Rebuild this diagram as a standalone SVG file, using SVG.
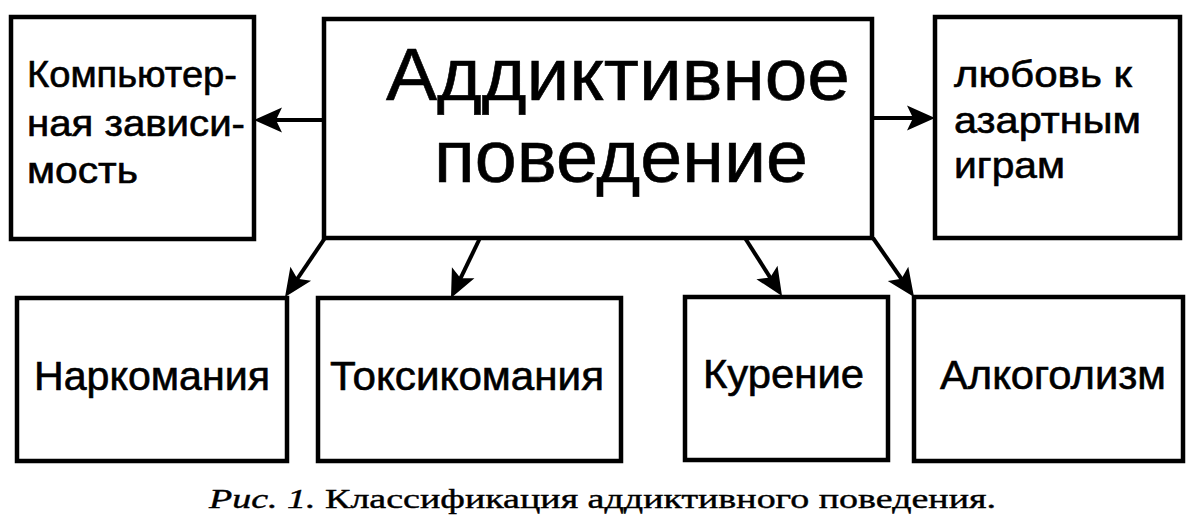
<svg xmlns="http://www.w3.org/2000/svg" width="1196" height="526" viewBox="0 0 1196 526">
<style>
.box{fill:#fff;stroke:#000;stroke-width:4.5}
.t{font-family:"Liberation Sans",Arial,sans-serif;fill:#000;stroke:#000;stroke-width:0.6}
.s{font-size:37px}
.b{font-size:40px}
.m{font-size:74px}
.c{font-family:"Liberation Serif","Times New Roman",serif;font-size:27px;fill:#000;stroke:#000;stroke-width:0.4}
.e{stroke:#000;stroke-width:4;fill:none}
</style>
<defs>
<marker id="ah" markerUnits="userSpaceOnUse" orient="auto" refX="0" refY="0" markerWidth="40" markerHeight="40" viewBox="-30 -15 40 30" overflow="visible">
<path d="M6,0 L-22,-12.5 L-16,0 L-22,12.5 Z" fill="#000"/>
</marker>
</defs>
<rect width="1196" height="526" fill="#fff"/>
<g id="connectors">
<line class="e" x1="324" y1="120" x2="260" y2="120" marker-end="url(#ah)"/>
<line class="e" x1="872" y1="118" x2="929" y2="118" marker-end="url(#ah)"/>
<line class="e" x1="325" y1="238" x2="288.4" y2="292" marker-end="url(#ah)"/>
<line class="e" x1="480" y1="238" x2="453.6" y2="292.6" marker-end="url(#ah)"/>
<line class="e" x1="745" y1="238" x2="778.8" y2="291" marker-end="url(#ah)"/>
<line class="e" x1="873" y1="238" x2="910.6" y2="292" marker-end="url(#ah)"/>
</g>
<g id="main">
<rect class="box" x="324" y="19" width="548" height="219"/>
<text class="t m" x="386" y="100" textLength="464" lengthAdjust="spacingAndGlyphs">Аддиктивное</text>
<text class="t m" x="434" y="182" textLength="374" lengthAdjust="spacingAndGlyphs">поведение</text>
</g>
<g id="computer">
<rect class="box" x="11" y="17" width="243" height="222"/>
<text class="t s" x="27" y="87" textLength="210" lengthAdjust="spacingAndGlyphs">Компьютер-</text>
<text class="t s" x="27" y="136" textLength="218" lengthAdjust="spacingAndGlyphs">ная зависи-</text>
<text class="t s" x="27" y="183" textLength="111" lengthAdjust="spacingAndGlyphs">мость</text>
</g>
<g id="gambling">
<rect class="box" x="935" y="17" width="245" height="221"/>
<text class="t s" x="954" y="87" textLength="178" lengthAdjust="spacingAndGlyphs">любовь к</text>
<text class="t s" x="954" y="133" textLength="187" lengthAdjust="spacingAndGlyphs">азартным</text>
<text class="t s" x="954" y="178" textLength="111" lengthAdjust="spacingAndGlyphs">играм</text>
</g>
<g id="narco">
<rect class="box" x="17" y="298" width="270" height="163"/>
<text class="t b" x="34" y="390" textLength="236" lengthAdjust="spacingAndGlyphs">Наркомания</text>
</g>
<g id="toxico">
<rect class="box" x="318" y="298" width="303" height="163"/>
<text class="t b" x="330" y="390" textLength="274" lengthAdjust="spacingAndGlyphs">Токсикомания</text>
</g>
<g id="smoking">
<rect class="box" x="685" y="297" width="203" height="163"/>
<text class="t b" x="703" y="388" textLength="161" lengthAdjust="spacingAndGlyphs">Курение</text>
</g>
<g id="alco">
<rect class="box" x="914" y="297" width="269" height="164"/>
<text class="t b" x="940" y="389" textLength="226" lengthAdjust="spacingAndGlyphs">Алкоголизм</text>
</g>
<text class="c" x="209" y="508" textLength="787" lengthAdjust="spacingAndGlyphs"><tspan font-style="italic">Рис. 1.</tspan> Классификация аддиктивного поведения.</text>
</svg>
